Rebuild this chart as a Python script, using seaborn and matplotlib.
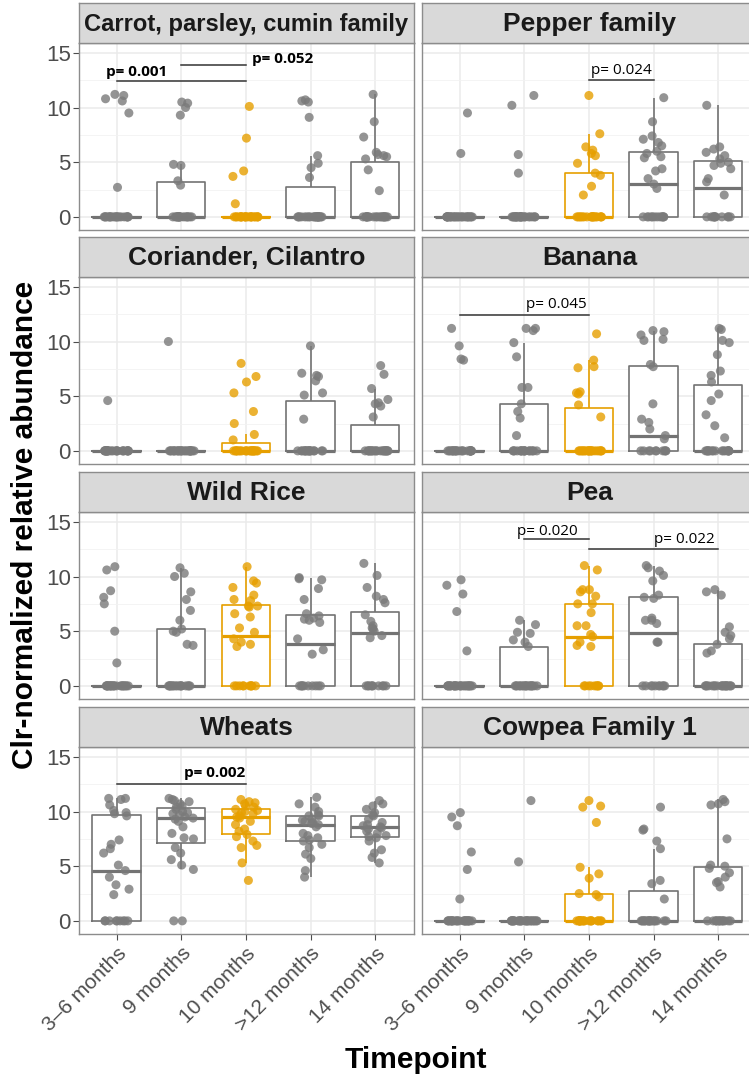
import numpy as np
import pandas as pd
import matplotlib
matplotlib.use("Agg")
import matplotlib.pyplot as plt
import seaborn as sns

# ---------------- data ----------------
timepoints = ["3–6 months", "9 months", "10 months", ">12 months", "14 months"]
panel_titles = ["Carrot, parsley, cumin family", "Pepper family",
                "Coriander, Cilantro", "Banana",
                "Wild Rice", "Pea",
                "Wheats", "Cowpea Family 1"]

carrot = [
    [10.8, 11.1, 11.2, 10.6, 9.5, 2.7, 0, 0, 0, 0, 0, 0, 0, 0, 0, 0, 0, 0, 0, 0, 0, 0, 0, 0, 0, 0],
    [10.5, 10.4, 10.0, 9.3, 4.8, 4.7, 3.3, 2.9, 0, 0, 0, 0, 0, 0, 0, 0, 0, 0, 0, 0, 0, 0, 0, 0, 0, 0],
    [10.1, 7.2, 4.2, 3.7, 1.2, 0, 0, 0, 0, 0, 0, 0, 0, 0, 0, 0, 0, 0, 0, 0, 0, 0, 0, 0, 0, 0, 0],
    [10.7, 10.6, 10.5, 9.1, 5.6, 4.9, 4.5, 3.6, 0, 0, 0, 0, 0, 0, 0, 0, 0, 0, 0, 0, 0, 0, 0, 0, 0, 0, 0, 0, 0, 0],
    [11.2, 8.7, 7.3, 5.9, 5.7, 5.6, 5.5, 5.3, 4.3, 2.4, 0, 0, 0, 0, 0, 0, 0, 0, 0, 0, 0, 0, 0, 0, 0, 0, 0, 0, 0, 0],
]
pepper = [
    [9.5, 5.8, 0, 0, 0, 0, 0, 0, 0, 0, 0, 0, 0, 0, 0, 0, 0, 0, 0, 0, 0, 0, 0, 0, 0, 0, 0, 0],
    [11.1, 10.2, 5.7, 4.0, 0, 0, 0, 0, 0, 0, 0, 0, 0, 0, 0, 0, 0, 0, 0, 0, 0, 0, 0, 0, 0, 0, 0, 0],
    [11.1, 7.6, 6.4, 6.1, 5.8, 5.6, 4.9, 4.0, 3.8, 2.8, 2.0, 0, 0, 0, 0, 0, 0, 0, 0, 0, 0, 0, 0, 0, 0, 0, 0, 0, 0],
    [10.9, 8.7, 7.4, 7.1, 6.8, 6.5, 6.0, 5.8, 5.5, 5.4, 4.4, 4.2, 3.5, 3.0, 2.6, 0, 0, 0, 0, 0, 0, 0, 0, 0, 0, 0, 0],
    [10.2, 6.4, 6.2, 5.9, 5.6, 5.3, 5.0, 4.9, 4.7, 4.4, 3.5, 3.2, 2.0, 0, 0, 0, 0, 0, 0, 0, 0, 0, 0, 0],
]
coriander = [
    [4.6, 0, 0, 0, 0, 0, 0, 0, 0, 0, 0, 0, 0, 0, 0, 0, 0, 0, 0, 0, 0, 0, 0, 0, 0, 0, 0],
    [10.0, 0, 0, 0, 0, 0, 0, 0, 0, 0, 0, 0, 0, 0, 0, 0, 0, 0, 0, 0, 0, 0, 0, 0, 0, 0, 0],
    [8.0, 6.8, 6.3, 5.3, 3.6, 2.5, 1.5, 1.0, 0, 0, 0, 0, 0, 0, 0, 0, 0, 0, 0, 0, 0, 0, 0, 0, 0, 0, 0, 0, 0, 0],
    [9.6, 7.1, 6.9, 6.8, 6.4, 5.3, 5.1, 2.9, 0, 0, 0, 0, 0, 0, 0, 0, 0, 0, 0, 0, 0, 0, 0, 0, 0, 0],
    [7.8, 7.0, 5.7, 4.7, 4.4, 4.3, 4.1, 3.1, 0, 0, 0, 0, 0, 0, 0, 0, 0, 0, 0, 0, 0, 0, 0, 0, 0, 0, 0, 0, 0, 0],
]
banana = [
    [11.2, 9.6, 8.4, 8.3, 0, 0, 0, 0, 0, 0, 0, 0, 0, 0, 0, 0, 0, 0, 0, 0, 0, 0, 0, 0, 0, 0, 0, 0],
    [11.2, 11.2, 11.0, 9.9, 8.6, 5.8, 5.8, 4.3, 3.6, 3.0, 1.4, 0, 0, 0, 0, 0, 0, 0, 0, 0, 0, 0, 0, 0, 0, 0, 0, 0, 0],
    [10.7, 8.3, 7.7, 7.6, 5.4, 5.3, 5.2, 4.2, 3.1, 0, 0, 0, 0, 0, 0, 0, 0, 0, 0, 0, 0, 0, 0, 0, 0, 0, 0, 0, 0, 0],
    [11.0, 10.9, 10.6, 10.2, 10.1, 7.9, 7.7, 4.3, 2.9, 2.6, 2.0, 1.4, 1.1, 0, 0, 0, 0, 0, 0, 0, 0, 0, 0],
    [11.2, 11.1, 10.1, 9.9, 8.8, 7.3, 6.9, 6.3, 5.2, 4.6, 3.3, 2.3, 1.2, 0, 0, 0, 0, 0, 0, 0, 0, 0, 0, 0, 0, 0, 0, 0, 0, 0],
]
wild_rice = [
    [10.9, 10.6, 8.7, 8.1, 7.5, 5.0, 2.1, 0, 0, 0, 0, 0, 0, 0, 0, 0, 0, 0, 0, 0, 0, 0, 0, 0, 0, 0, 0, 0, 0],
    [10.8, 10.3, 10.0, 8.6, 7.9, 6.9, 6.0, 5.2, 5.0, 4.9, 3.8, 3.7, 0, 0, 0, 0, 0, 0, 0, 0, 0, 0, 0, 0, 0, 0, 0, 0, 0],
    [10.9, 9.6, 9.4, 9.0, 8.3, 7.9, 7.8, 7.3, 7.3, 7.2, 6.6, 6.3, 5.3, 4.9, 4.3, 4.0, 3.8, 3.6, 0, 0, 0, 0, 0, 0, 0, 0, 0, 0],
    [9.9, 9.8, 9.7, 8.9, 7.9, 6.6, 6.4, 6.2, 6.1, 6.0, 5.8, 4.3, 3.3, 2.9, 0, 0, 0, 0, 0, 0, 0, 0, 0, 0],
    [11.2, 10.1, 9.0, 8.2, 7.9, 7.6, 6.5, 5.9, 5.5, 5.3, 5.2, 5.0, 4.6, 4.4, 0, 0, 0, 0, 0, 0, 0, 0, 0, 0],
]
pea = [
    [9.7, 9.2, 8.4, 6.8, 3.2, 0, 0, 0, 0, 0, 0, 0, 0, 0, 0, 0, 0, 0, 0, 0, 0, 0, 0, 0, 0, 0, 0, 0, 0],
    [6.0, 5.6, 4.9, 4.8, 4.2, 4.0, 3.6, 0, 0, 0, 0, 0, 0, 0, 0, 0, 0, 0, 0, 0, 0, 0, 0, 0, 0],
    [11.0, 10.6, 8.8, 8.8, 8.6, 8.2, 7.5, 7.5, 6.7, 5.5, 5.5, 4.7, 4.5, 4.0, 3.7, 3.6, 0, 0, 0, 0, 0, 0, 0, 0, 0],
    [11.0, 10.8, 10.5, 10.1, 9.6, 8.3, 8.1, 8.0, 6.2, 6.0, 6.0, 5.7, 4.0, 4.0, 0, 0, 0, 0, 0, 0, 0, 0, 0, 0],
    [8.8, 8.6, 8.3, 5.4, 4.9, 4.6, 4.3, 3.8, 3.2, 3.0, 0, 0, 0, 0, 0, 0, 0, 0, 0, 0, 0, 0, 0, 0, 0, 0, 0, 0, 0],
]
wheats = [
    [11.2, 11.2, 11.1, 10.6, 10.1, 9.9, 9.8, 9.6, 7.4, 7.0, 6.6, 6.2, 5.1, 4.6, 4.0, 3.3, 2.9, 2.4,
     0, 0, 0, 0, 0, 0, 0, 0, 0],
    [11.2, 11.1, 11.0, 10.9, 10.7, 10.5, 10.4, 10.2, 10.0, 9.9, 9.8, 9.7, 9.5, 9.4, 9.3, 9.1, 8.6,
     8.0, 7.6, 7.5, 6.7, 6.2, 5.6, 5.1, 4.7, 0, 0],
    [11.1, 10.9, 10.8, 10.7, 10.5, 10.4, 10.2, 10.1, 10.0, 9.9, 9.8, 9.6, 9.5, 9.4, 9.1, 8.8, 8.4,
     8.2, 7.9, 7.7, 7.3, 6.9, 6.7, 5.3, 3.7],
    [11.3, 10.7, 10.4, 10.0, 9.7, 9.6, 9.6, 9.3, 9.2, 9.1, 9.0, 8.9, 8.8, 8.6, 8.0, 7.8, 7.6, 7.4,
     7.3, 7.0, 6.7, 6.1, 5.7, 4.6, 4.0],
    [11.0, 10.7, 10.5, 10.2, 9.9, 9.7, 9.6, 9.3, 9.0, 8.8, 8.7, 8.6, 8.5, 8.4, 8.2, 8.0, 7.8, 7.7,
     7.6, 7.3, 6.5, 6.2, 5.8, 5.3],
]
cowpea = [
    [9.9, 9.5, 8.7, 6.3, 4.7, 2.0, 0, 0, 0, 0, 0, 0, 0, 0, 0, 0, 0, 0, 0, 0, 0, 0, 0, 0, 0, 0, 0, 0, 0, 0],
    [11.0, 5.4, 0, 0, 0, 0, 0, 0, 0, 0, 0, 0, 0, 0, 0, 0, 0, 0, 0, 0, 0, 0, 0, 0, 0, 0, 0, 0],
    [11.0, 10.5, 10.4, 9.0, 4.9, 4.3, 3.9, 2.5, 2.4, 2.2, 0, 0, 0, 0, 0, 0, 0, 0, 0, 0, 0, 0, 0, 0, 0, 0, 0, 0, 0],
    [10.4, 8.4, 8.3, 7.3, 6.6, 3.7, 3.4, 2.0, 0, 0, 0, 0, 0, 0, 0, 0, 0, 0, 0, 0, 0, 0, 0, 0, 0, 0, 0],
    [11.1, 10.9, 10.7, 10.6, 7.5, 5.1, 5.0, 4.8, 4.4, 4.0, 3.6, 3.5, 3.1, 0, 0, 0, 0, 0, 0, 0, 0, 0, 0, 0, 0, 0, 0],
]
panels = [carrot, pepper, coriander, banana, wild_rice, pea, wheats, cowpea]

# significance brackets: (from group, to group, bracket value, label, label x, label y, bold)
p_brackets = {
    0: [(0, 2, 12.45, "p= 0.001", 0.31, 13.25, True),
        (1, 2, 13.9, "p= 0.052", 2.57, 14.45, True)],
    1: [(2, 3, 12.5, "p= 0.024", 2.5, 13.35, False)],
    3: [(0, 2, 12.45, "p= 0.045", 1.5, 13.35, False)],
    5: [(1, 2, 13.4, "p= 0.020", 1.35, 14.1, False),
        (2, 4, 12.5, "p= 0.022", 3.48, 13.4, False)],
    6: [(0, 2, 12.5, "p= 0.002", 1.52, 13.5, True)],
}

# ---------------- style ----------------
plt.rcParams["font.family"] = ["Liberation Sans", "DejaVu Sans"]
GREY_LINE = "#737373"
GREY_PT = "#7a7a7a"
ORANGE = "#E69F00"
box_pal = {tp: (ORANGE if tp == "10 months" else GREY_LINE) for tp in timepoints}
pt_pal = {tp: (ORANGE if tp == "10 months" else GREY_PT) for tp in timepoints}
TICK_COL = "#4D4D4D"
BORDER = "#8c8c8c"

W, H = 749, 1080
fig = plt.figure(figsize=(W / 100, H / 100), dpi=100)
renderer = fig.canvas.get_renderer()

col_x = [79, 422]
panel_w = 335
row_top = [3, 237, 472, 707]
strip_h = 40
panel_h = 187

np.random.seed(7)

for i, (title, groups) in enumerate(zip(panel_titles, panels)):
    r, c = divmod(i, 2)
    x0 = col_x[c]
    top = row_top[r]
    ax = fig.add_axes([x0 / W, 1 - (top + strip_h + panel_h) / H, panel_w / W, panel_h / H])
    sax = fig.add_axes([x0 / W, 1 - (top + strip_h) / H, panel_w / W, strip_h / H])

    df = pd.DataFrame({
        "tp": [tp for tp, g in zip(timepoints, groups) for _ in g],
        "val": [v for g in groups for v in g],
    })

    ax.set_facecolor("white")
    ax.set_axisbelow(True)
    # white box bodies
    sns.boxplot(data=df, x="tp", y="val", order=timepoints, color="white", fill=True,
                linewidth=0, showfliers=False, showcaps=False, width=0.75, whis=1.5, ax=ax)
    # coloured outlines
    sns.boxplot(data=df, x="tp", y="val", order=timepoints, hue="tp", hue_order=timepoints,
                palette=box_pal, fill=False, legend=False, linewidth=1.2,
                showfliers=False, showcaps=False, width=0.75, whis=1.5,
                medianprops={"linewidth": 2.3}, ax=ax)
    sns.stripplot(data=df, x="tp", y="val", order=timepoints, hue="tp", hue_order=timepoints,
                  palette=pt_pal, jitter=0.2, size=6.5, alpha=0.8, linewidth=0,
                  legend=False, ax=ax, zorder=5)

    for (g1, g2, yb, lab, tx, ty, bold) in p_brackets.get(i, []):
        ax.plot([g1, g2], [yb, yb], color="#333333", lw=1.1, zorder=6)
        ax.text(tx, ty, lab, ha="center", va="center", fontsize=11,
                fontweight="bold" if bold else "normal", family=["Open Sans", "DejaVu Sans"],
                color="black", zorder=7)

    ax.set_xlim(-0.58, 4.6)
    ax.set_ylim(-1.2, 15.9)
    ax.set_yticks([0, 5, 10, 15])
    ax.set_yticks([2.5, 7.5, 12.5], minor=True)
    ax.set_xticks(range(5))
    ax.grid(True, which="major", color="#EBEBEB", lw=1.1)
    ax.grid(True, which="minor", axis="y", color="#F2F2F2", lw=0.6)
    ax.set_xlabel("")
    ax.set_ylabel("")
    for sp in ax.spines.values():
        sp.set_color(BORDER)
        sp.set_linewidth(1.0)
    ax.tick_params(which="minor", length=0)
    if c == 0:
        ax.set_yticklabels(["0", "5", "10", "15"])
        ax.tick_params(axis="y", which="major", length=4, color=TICK_COL,
                       labelcolor=TICK_COL, labelsize=16, pad=2)
    else:
        ax.tick_params(axis="y", which="major", length=0, labelleft=False)
    if r == 3:
        ax.set_xticklabels(timepoints, rotation=45, ha="right", va="top", rotation_mode="anchor")
        ax.tick_params(axis="x", which="major", length=4, color=TICK_COL,
                       labelcolor=TICK_COL, labelsize=15, pad=3)
    else:
        ax.tick_params(axis="x", which="major", length=0, labelbottom=False)

    sax.set_facecolor("#D9D9D9")
    sax.set_xticks([])
    sax.set_yticks([])
    for sp in sax.spines.values():
        sp.set_color(BORDER)
        sp.set_linewidth(1.0)
    st = sax.text(0.5, 0.47, title, ha="center", va="center",
                  fontsize=19, fontweight="bold", color="#1A1A1A", transform=sax.transAxes)
    # shrink a title that would not fit inside its strip
    wpx = st.get_window_extent(renderer=renderer).width
    if wpx > panel_w - 10:
        st.set_fontsize(19 * (panel_w - 10) / wpx)

fig.text(25 / W, 1 - 525 / H, "Clr-normalized relative abundance", rotation=90,
         ha="center", va="center", fontsize=21.5, fontweight="bold", color="black")
fig.text(416 / W, 1 - 1060 / H, "Timepoint", ha="center", va="center",
         fontsize=21.5, fontweight="bold", color="black")

fig.savefig("out.png", dpi=100)
